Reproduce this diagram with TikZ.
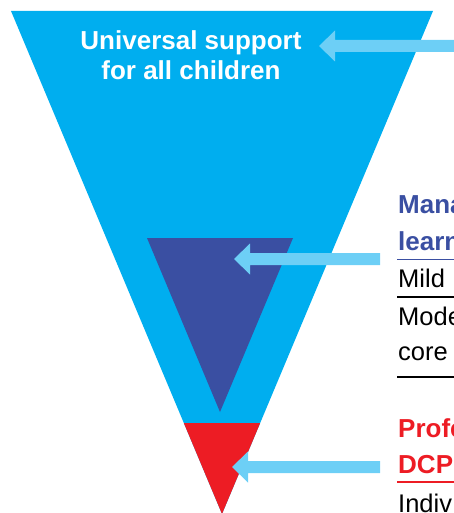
\documentclass[tikz,border=0pt]{standalone}
\usepackage{fontspec}
\setmainfont{Liberation Sans}
\definecolor{cyanfill}{HTML}{00AEEF}
\definecolor{darkfill}{HTML}{3A4FA2}
\definecolor{redfill}{HTML}{ED1C24}
\definecolor{arrowfill}{HTML}{6DCFF6}
\tikzset{
  bigtext/.style={text=white, font=\bfseries\fontsize{26}{30}\selectfont, align=center, inner sep=0pt},
  sidetext/.style={anchor=base west, inner sep=0pt, font=\fontsize{25.5}{28}\selectfont},
  sidebold/.style={sidetext, font=\bfseries\fontsize{26}{28}\selectfont},
  rule/.style={line width=1.2pt},
}
\newcommand\flatarrow[3]{%
  \fill[arrowfill] (#1,#2) -- (#1+16,#2-15.5) -- (#1+16,#2-6) -- (#3,#2-6)
    -- (#3,#2+6) -- (#1+16,#2+6) -- (#1+16,#2+15.5) -- cycle;}
\begin{document}
\begin{tikzpicture}[x=1pt,y=-1pt]
\useasboundingbox (0,0) rectangle (454,513);
\clip (0,0) rectangle (454,513);
% big triangle
\coordinate (tl) at (11,11);
\coordinate (tr) at (433,11);
\coordinate (apex) at (222,514);
\fill[cyanfill] (tl) -- (tr) -- (apex) -- cycle;
% dark blue triangle
\coordinate (dl) at (147,238);
\coordinate (dr) at (293,238);
\coordinate (dapex) at (220,412);
\fill[darkfill] (dl) -- (dr) -- (dapex) -- cycle;
% red tip
\begin{scope}
  \clip (tl) -- (tr) -- (apex) -- cycle;
  \fill[redfill] (0,423) rectangle (454,520);
\end{scope}
% arrows
\flatarrow{319}{46}{460}
\flatarrow{234}{259}{380}
\flatarrow{232}{467}{380}
% top text
\node[bigtext, anchor=base] (t1) at (191,50) {Universal support};
\node[bigtext, anchor=base] (t2) at (191,80) {for all children};
% right side texts
\node[sidebold, text=darkfill] (m1) at (398,213) {Mana};
\node[sidebold, text=darkfill] (m2) at (398,250) {learn};
\draw[rule, darkfill] (397,259.5) -- (460,259.5);
\node[sidetext] (m3) at (398,287) {Mild};
\draw[rule, black] (397,297) -- (460,297);
\node[sidetext] (m4) at (398,325) {Mode};
\node[sidetext] (m5) at (398,360) {core};
\draw[rule, black] (397,377) -- (460,377);
\node[sidebold, text=redfill] (p1) at (398,437) {Profe};
\node[sidebold, text=redfill] (p2) at (398,473) {DCP};
\draw[rule, redfill] (397,482) -- (460,482);
\node[sidetext] (p3) at (398,512) {Indiv};
\end{tikzpicture}
\end{document}
